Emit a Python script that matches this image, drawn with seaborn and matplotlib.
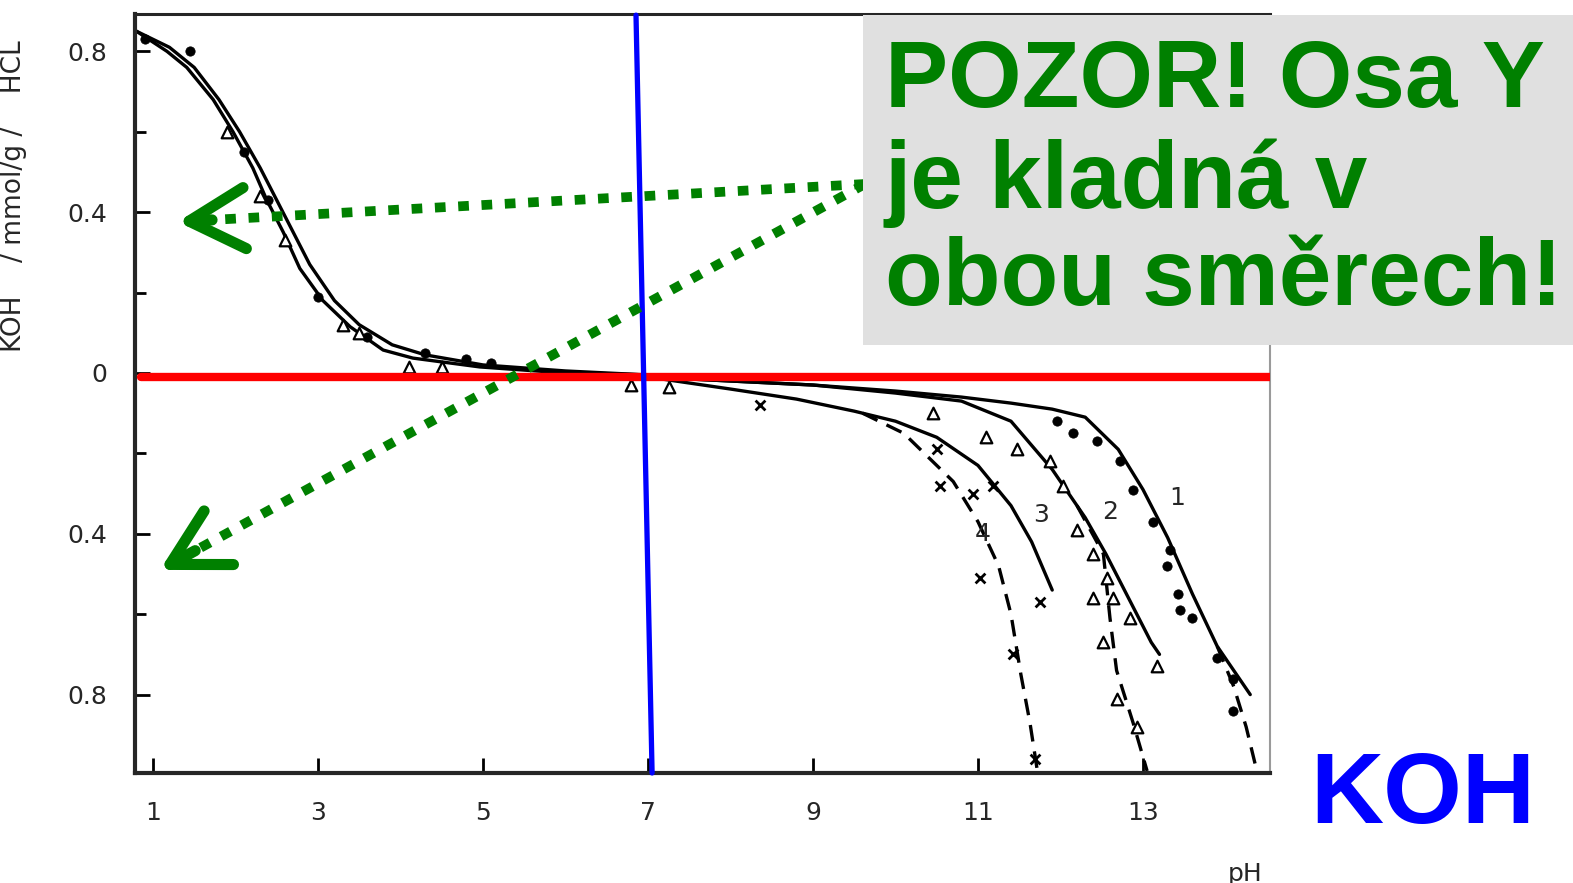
import numpy as np
import pandas as pd
import matplotlib
matplotlib.use("Agg")
import matplotlib.pyplot as plt
from matplotlib.patches import Rectangle
import seaborn as sns

# ========================
# DATA
# y > 0 : HCl uptake, y < 0 : KOH uptake (mmol/g)
# ========================
acid_a_ph  = [0.8, 1.17, 1.41, 1.73, 1.97, 2.21, 2.38, 2.58, 2.78, 3.06, 3.39, 3.79, 4.15, 4.96, 5.78, 7.0]
acid_a_val = [0.85, 0.80, 0.76, 0.68, 0.60, 0.51, 0.43, 0.35, 0.26, 0.18, 0.115, 0.057, 0.037, 0.015, 0.003, -0.005]
acid_b_ph  = [0.8, 1.2, 1.5, 1.8, 2.05, 2.3, 2.5, 2.7, 2.9, 3.2, 3.5, 3.9, 4.3, 5.0, 6.0, 7.0]
acid_b_val = [0.85, 0.81, 0.76, 0.68, 0.60, 0.51, 0.43, 0.35, 0.27, 0.18, 0.12, 0.07, 0.045, 0.02, 0.005, -0.005]

c1_ph  = [7.0, 8.0, 9.0, 10.0, 10.8, 11.4, 11.9, 12.3, 12.7, 13.0, 13.3, 13.6, 13.9, 14.3]
c1_val = [-0.01, -0.02, -0.03, -0.045, -0.06, -0.075, -0.09, -0.11, -0.19, -0.29, -0.41, -0.55, -0.68, -0.80]
c1_tail_ph  = [13.9, 14.1, 14.25, 14.38]
c1_tail_val = [-0.68, -0.78, -0.88, -0.99]

c2_ph  = [7.0, 8.0, 9.0, 10.0, 10.8, 11.4, 11.9, 12.3, 12.55, 12.8, 13.1, 13.2]
c2_val = [-0.01, -0.02, -0.03, -0.05, -0.07, -0.12, -0.24, -0.36, -0.45, -0.55, -0.67, -0.70]
c2_tail_ph  = [12.2, 12.52, 12.6, 12.68, 12.88, 13.05]
c2_tail_val = [-0.33, -0.45, -0.61, -0.74, -0.87, -0.99]

c3_ph  = [7.0, 8.0, 8.8, 9.5, 10.0, 10.5, 11.0, 11.4, 11.65, 11.9]
c3_val = [-0.01, -0.04, -0.065, -0.095, -0.12, -0.16, -0.23, -0.33, -0.42, -0.54]

c4_ph  = [9.6, 10.1, 10.7, 11.0, 11.25, 11.4, 11.52, 11.63, 11.72]
c4_val = [-0.10, -0.15, -0.27, -0.37, -0.48, -0.60, -0.75, -0.87, -0.99]

# measured points
dots_ph  = [0.9, 1.45, 2.1, 2.4, 3.0, 3.6, 4.3, 4.8, 5.1,
            11.96, 12.15, 12.44, 12.72, 12.88, 13.12, 13.33, 13.29, 13.42, 13.45, 13.6, 13.9, 14.09, 14.09]
dots_val = [0.83, 0.80, 0.55, 0.43, 0.19, 0.09, 0.05, 0.035, 0.025,
            -0.12, -0.15, -0.17, -0.22, -0.29, -0.37, -0.44, -0.48, -0.55, -0.59, -0.61, -0.71, -0.76, -0.84]
tri_ph  = [1.9, 2.3, 2.6, 3.3, 3.5, 4.1, 4.5, 6.8, 7.25,
           10.45, 11.1, 11.47, 11.87, 12.03, 12.2, 12.4, 12.56, 12.4, 12.64, 12.84, 13.17, 12.52, 12.68, 12.93]
tri_val = [0.60, 0.44, 0.33, 0.12, 0.10, 0.015, 0.015, -0.03, -0.035,
           -0.10, -0.16, -0.19, -0.22, -0.28, -0.39, -0.45, -0.51, -0.56, -0.56, -0.61, -0.73, -0.67, -0.81, -0.88]
x_ph  = [8.36, 10.5, 10.54, 10.94, 11.18, 11.02, 11.75, 11.42, 11.69]
x_val = [-0.08, -0.19, -0.28, -0.30, -0.28, -0.51, -0.57, -0.70, -0.96]

curve_names = ["1", "2", "3", "4"]
curve_name_ph  = [13.42, 12.6, 11.77, 11.06]
curve_name_val = [-0.31, -0.345, -0.353, -0.40]

x_ticks = [1, 3, 5, 7, 9, 11, 13]
y_ticks = [0.8, 0.4, 0, -0.4, -0.8]
y_tick_labels = ["0.8", "0.4", "0", "0.4", "0.8"]
y_minor = [0.6, 0.2, -0.2, -0.6]

# annotation overlay
zero_line = -0.01
neutral_top = (6.855, 0.89)
neutral_bottom = (7.05, -0.995)
arrow_start = (9.63, 0.47)
arrow_tips = [(1.30, 0.376), (1.085, -0.49)]

# ========================
# PLOT
# ========================
sns.set_style("ticks")
plt.rcParams['font.family'] = ['DejaVu Sans']

fig = plt.figure(figsize=(15.73, 8.83), dpi=100)
ax = fig.add_axes([0.0858, 0.1246, 0.7216, 0.8596])

ink = "black"
solid = [(acid_a_ph, acid_a_val), (acid_b_ph, acid_b_val),
         (c1_ph, c1_val), (c2_ph, c2_val), (c3_ph, c3_val)]
for xs, ys in solid:
    sns.lineplot(x=xs, y=ys, ax=ax, color=ink, lw=2.4, sort=False)
dashed = [(c1_tail_ph, c1_tail_val), (c2_tail_ph, c2_tail_val), (c4_ph, c4_val)]
for xs, ys in dashed:
    sns.lineplot(x=xs, y=ys, ax=ax, color=ink, lw=2.4, sort=False,
                 linestyle=(0, (5, 3)))

sns.scatterplot(x=dots_ph, y=dots_val, ax=ax, color=ink, s=45, marker="o",
                edgecolor=ink, zorder=3)
sns.scatterplot(x=tri_ph, y=tri_val, ax=ax, facecolor="white", s=70, marker="^",
                edgecolor=ink, linewidth=1.6, zorder=3)
sns.scatterplot(x=x_ph, y=x_val, ax=ax, color=ink, s=50, marker="x",
                linewidth=2, zorder=3)

for name, px, py in zip(curve_names, curve_name_ph, curve_name_val):
    ax.text(px, py, name, fontsize=18, ha="center", va="center")

ax.set_xlim(0.782, 14.54)
ax.set_ylim(-0.995, 0.893)
ax.set_xticks(x_ticks)
ax.set_xticklabels([str(t) for t in x_ticks])
ax.set_yticks(y_ticks)
ax.set_yticklabels(y_tick_labels)
ax.set_yticks(y_minor, minor=True)
ax.tick_params(axis="both", which="both", direction="in", labelsize=18,
               width=2, pad=20, color=ink)
ax.tick_params(axis="both", which="major", length=11)
ax.tick_params(axis="y", which="minor", length=8)

for side in ["left", "bottom"]:
    ax.spines[side].set_linewidth(3)
ax.spines["top"].set_linewidth(2.2)
ax.spines["right"].set_linewidth(1.5)
ax.spines["right"].set_color("#9a9a9a")

ax.set_ylabel("KOH    / mmol/g /    HCL", fontsize=19)
ax.yaxis.set_label_coords(-0.095, 0.76)
ax.set_xlabel("pH", fontsize=18)
ax.xaxis.set_label_coords(0.978, -0.117)

# ========================
# OVERLAY: reference lines, note, arrows
# ========================
ax.axhline(zero_line, xmin=0.005, xmax=1.0, color="#ff0000", lw=6, zorder=4)
ax.plot([neutral_top[0], neutral_bottom[0]], [neutral_top[1], neutral_bottom[1]],
        color="#0000ff", lw=3.8, zorder=5, clip_on=False)

green = "#008000"
for tip in arrow_tips:
    dx = arrow_start[0] - tip[0]
    dy = arrow_start[1] - tip[1]
    back = (tip[0] + dx * 0.05, tip[1] + dy * 0.05)
    ax.plot([arrow_start[0], back[0]], [arrow_start[1], back[1]], color=green,
            lw=7, linestyle=(0, (1.1, 1.3)), solid_capstyle="butt",
            dash_capstyle="butt", zorder=6, clip_on=False)
    ax.annotate("", xy=tip, xytext=back,
                arrowprops=dict(arrowstyle="->,head_length=1.0,head_width=0.55",
                                color=green, lw=8, mutation_scale=40,
                                capstyle="round", joinstyle="round",
                                shrinkA=0, shrinkB=0),
                zorder=6, annotation_clip=False)

fig.patches.append(Rectangle((0.5486, 0.6093), 0.4514, 0.3737, transform=fig.transFigure,
                             facecolor="#e0e0e0", edgecolor="none", zorder=7))
note_lines = ["POZOR! Osa Y", "je kladná v", "obou směrech!"]
note_baselines = [0.8788, 0.7644, 0.6546]
for line, yb in zip(note_lines, note_baselines):
    fig.text(0.5626, yb, line, fontsize=68, fontweight="bold", color=green,
             family=["Liberation Sans", "DejaVu Sans"], va="baseline", ha="left", zorder=8)

fig.text(0.8328, 0.068, "KOH", fontsize=73, fontweight="bold", color="#0000ff",
         family=["Liberation Sans", "DejaVu Sans"], va="baseline", ha="left")

fig.savefig("out.png", dpi=100, facecolor="white")
